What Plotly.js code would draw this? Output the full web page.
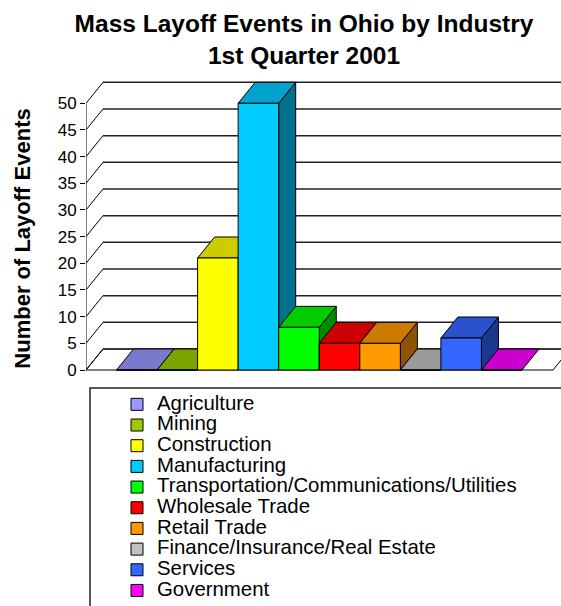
<!DOCTYPE html>
<html>
<head>
<meta charset="utf-8">
<script src="https://cdn.plot.ly/plotly-3.0.1.min.js"></script>
<style>html,body{margin:0;padding:0;background:#fff;}#chart{width:561px;height:606px;}</style>
</head>
<body>
<div id="chart"></div>
<script>
// ---- data ----
const categories = [
  'Agriculture',
  'Mining',
  'Construction',
  'Manufacturing',
  'Transportation/Communications/Utilities',
  'Wholesale Trade',
  'Retail Trade',
  'Finance/Insurance/Real Estate',
  'Services',
  'Government'
];
const values = [0, 0, 21, 50, 8, 5, 5, 0, 6, 0];
const colors = ['#9999FF', '#99CC00', '#FFFF00', '#00CCFF', '#00FF00', '#FF0000', '#FF9900', '#C0C0C0', '#3366FF', '#FF00FF'];
const tickValues = [0, 5, 10, 15, 20, 25, 30, 35, 40, 45, 50];
const chartTitle = 'Mass Layoff Events in Ohio by Industry<br>1st Quarter 2001';
const yTitle = 'Number of Layoff Events';

// ---- geometry (pixels) ----
const W = 561, H = 606;
const ML = 86, MT = 75, PLOT_BOTTOM = 402;
const ZERO_Y = 370;           // pixel row of value 0 on the front plane
const PX_X = 40.55;           // pixels per bar slot
const PX_Y = 5.334;           // pixels per unit
const DEPTH_X = 17, DEPTH_Y = 21; // oblique depth offset in pixels
const FIRST_BAR_PX = 116.5;
const FLOOR_END_PX = 553;

const DX = DEPTH_X / PX_X;
const DY = DEPTH_Y / PX_Y;
const xMax = (W - ML) / PX_X;
const yMin = -(PLOT_BOTTOM - ZERO_Y) / PX_Y;
const yMaxR = (ZERO_Y - MT) / PX_Y;
const firstLeft = (FIRST_BAR_PX - ML) / PX_X;
const floorEnd = (FLOOR_END_PX - ML) / PX_X;
const plotW = W - ML, plotH = PLOT_BOTTOM - MT;
const pxToPaperX = p => (p - ML) / plotW;
const pxToPaperY = p => (PLOT_BOTTOM - p) / plotH;

function shade(hex, f) {
  const n = parseInt(hex.slice(1), 16);
  const r = Math.round(((n >> 16) & 255) * f);
  const g = Math.round(((n >> 8) & 255) * f);
  const b = Math.round((n & 255) * f);
  return 'rgb(' + r + ',' + g + ',' + b + ')';
}

const FONT = 'Liberation Sans, Arial, Helvetica, sans-serif';
const traces = [];

// floor
traces.push({
  type: 'scatter', mode: 'lines', hoverinfo: 'skip', showlegend: false, zorder: 0,
  x: [0, floorEnd, floorEnd + DX, DX, 0],
  y: [0, 0, DY, DY, 0],
  fill: 'toself', fillcolor: '#ffffff',
  line: {color: '#000', width: 1}
});
// back wall gridlines
const gx = [], gy = [];
tickValues.forEach(v => { gx.push(DX, xMax + 1, null); gy.push(v + DY, v + DY, null); });
traces.push({
  type: 'scatter', mode: 'lines', hoverinfo: 'skip', showlegend: false, zorder: 0,
  x: gx, y: gy, line: {color: '#222', width: 1.5}
});
// left wall diagonals + front axis line
const dx = [], dy = [];
tickValues.forEach(v => { dx.push(0, DX, null); dy.push(v, v + DY, null); });
dx.push(0, 0); dy.push(tickValues[0], tickValues[tickValues.length - 1]);
traces.push({
  type: 'scatter', mode: 'lines', hoverinfo: 'skip', showlegend: false, zorder: 0,
  x: dx, y: dy, line: {color: '#000', width: 1}
});

// side & top faces of each bar
categories.forEach((c, i) => {
  const L = firstLeft + i, R = L + 1, h = values[i];
  if (h > 0) {
    traces.push({
      type: 'scatter', mode: 'lines', hoverinfo: 'skip', showlegend: false, zorder: 0,
      x: [R, R, R + DX, R + DX, R], y: [0, h, h + DY, DY, 0],
      fill: 'toself', fillcolor: shade(colors[i], 0.55), line: {color: '#000', width: 1}
    });
  }
  traces.push({
    type: 'scatter', mode: 'lines', hoverinfo: 'skip', showlegend: false, zorder: 0,
    x: [L, R, R + DX, L + DX, L], y: [h, h, h + DY, h + DY, h],
    fill: 'toself', fillcolor: shade(colors[i], 0.8), line: {color: '#000', width: 1}
  });
});

// front faces (bars) - also legend entries
categories.forEach((c, i) => {
  traces.push({
    type: 'bar', zorder: 1,
    x: [firstLeft + i + 0.5], y: [values[i]], width: [1],
    name: '<span style="font-size:20.4px">' + c + '</span>',
    marker: {color: colors[i], line: {color: '#000', width: 1}},
    hoverinfo: 'skip'
  });
});

const layout = {
  width: W, height: H,
  margin: {l: ML, r: 0, t: MT, b: H - PLOT_BOTTOM, pad: 0},
  paper_bgcolor: '#fff', plot_bgcolor: 'rgba(0,0,0,0)',
  barmode: 'overlay',
  hovermode: false,
  font: {family: FONT, color: '#000'},
  title: {
    text: chartTitle,
    font: {family: FONT, size: 24.5, weight: 700, color: '#000'},
    x: 304 / W, xref: 'container', xanchor: 'center',
    y: 1 - 32 / H, yref: 'container', yanchor: 'top'
  },
  xaxis: {
    range: [0, xMax], showgrid: false, zeroline: false, showline: false,
    showticklabels: false, ticks: '', fixedrange: true
  },
  yaxis: {
    range: [yMin, yMaxR], tickvals: tickValues, ticktext: tickValues.map(String),
    ticks: 'outside', ticklen: 5, tickcolor: '#000', tickwidth: 1,
    showgrid: false, zeroline: false, showline: false, fixedrange: true,
    tickfont: {family: FONT, size: 17, color: '#000'},
    title: {text: yTitle, font: {family: FONT, size: 22, weight: 700, color: '#000'}, standoff: 20},
    automargin: false
  },
  showlegend: true,
  legend: {
    x: pxToPaperX(117), y: pxToPaperY(389), xanchor: 'left', yanchor: 'top',
    bgcolor: 'rgba(0,0,0,0)', borderwidth: 0,
    font: {family: FONT, size: 13.6, color: '#000'},
    traceorder: 'normal', itemclick: false, itemdoubleclick: false
  },
  shapes: [{
    type: 'rect', xref: 'paper', yref: 'paper', layer: 'below',
    x0: pxToPaperX(90), x1: pxToPaperX(640), y0: pxToPaperY(388), y1: pxToPaperY(680),
    line: {color: '#222', width: 1.5}, fillcolor: 'rgba(0,0,0,0)'
  }]
};

Plotly.newPlot('chart', traces, layout, {displayModeBar: false, staticPlot: true});
</script>
</body>
</html>
